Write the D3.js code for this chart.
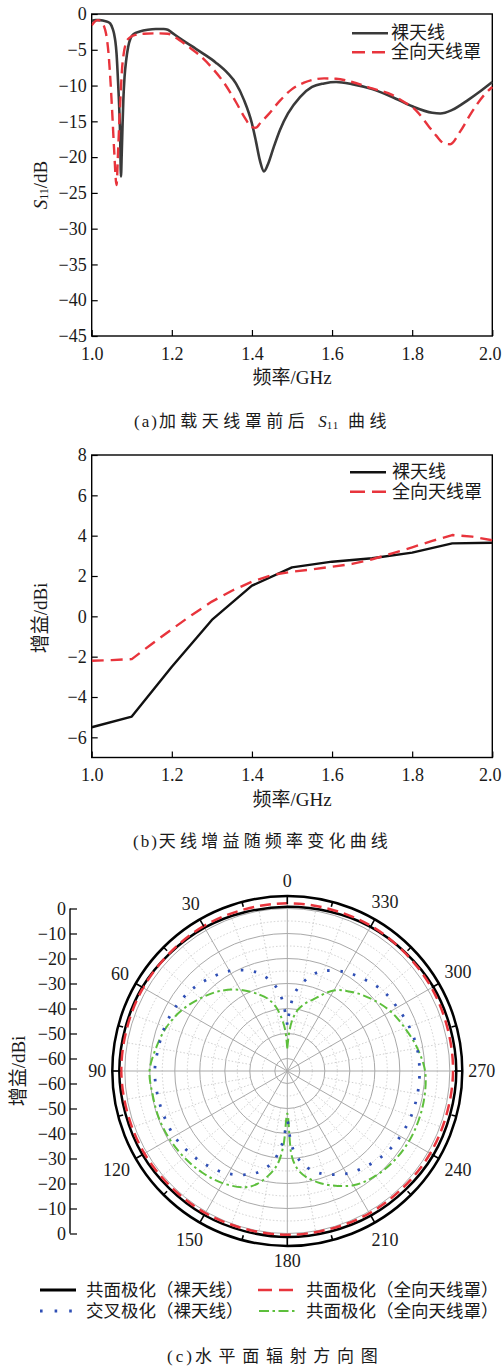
<!DOCTYPE html>
<html><head><meta charset="utf-8">
<script src="https://cdn.jsdelivr.net/npm/d3@7"></script>
<style>
html,body{margin:0;padding:0;background:#fff;}
svg{display:block;}
</style></head><body>
<svg id="c" width="502" height="1366"></svg>
<script>
// ---------- DATA ----------
// (a) S11 curves
const freqBare = [1.000,1.010,1.020,1.030,1.040,1.046,1.052,1.056,1.059,1.062,1.066,1.069,1.071,1.073,1.075,1.077,1.079,1.082,1.086,1.091,1.097,1.105,1.12,1.14,1.16,1.18,1.19,1.20,1.22,1.25,1.28,1.31,1.34,1.36,1.38,1.40,1.41,1.42,1.43,1.44,1.455,1.47,1.49,1.52,1.55,1.58,1.61,1.65,1.70,1.75,1.80,1.85,1.87,1.90,1.94,1.97,2.00];
const s11Bare  = [-0.95,-0.85,-0.85,-0.95,-1.1,-1.3,-2.0,-2.8,-3.8,-5.5,-9.7,-13.5,-17,-22.7,-19.5,-15.5,-12,-8.8,-6.5,-4.6,-3.4,-2.8,-2.45,-2.2,-2.1,-2.1,-2.2,-2.6,-3.4,-4.5,-5.6,-6.8,-8.3,-9.7,-12.0,-15.3,-17.8,-20.5,-22.0,-21.0,-18.5,-16.2,-13.9,-11.6,-10.2,-9.7,-9.5,-9.8,-10.5,-11.6,-12.9,-13.8,-13.9,-13.4,-12.0,-10.8,-9.5];
const freqRadome = [1.000,1.007,1.015,1.022,1.030,1.036,1.042,1.047,1.051,1.056,1.062,1.066,1.069,1.072,1.076,1.080,1.086,1.095,1.11,1.13,1.16,1.19,1.21,1.24,1.27,1.30,1.33,1.36,1.38,1.40,1.41,1.42,1.44,1.47,1.50,1.53,1.56,1.58,1.61,1.65,1.70,1.75,1.78,1.81,1.84,1.86,1.88,1.895,1.92,1.95,1.98,2.00];
const s11Radome  = [-1.6,-1.1,-0.85,-0.95,-1.6,-2.8,-5.5,-9.5,-13.5,-19,-23.9,-19,-15,-11.5,-7.5,-5.5,-4.0,-3.3,-2.9,-2.75,-2.7,-2.75,-3.3,-4.5,-5.8,-7.5,-9.6,-12.3,-14.3,-15.8,-15.9,-15.3,-14.1,-12.1,-10.5,-9.6,-9.1,-9.0,-9.05,-9.5,-10.4,-11.3,-12.3,-13.5,-15.6,-17.0,-18.1,-18.2,-16.4,-13.6,-11.3,-10.2];
// (b) gain curves
const freqGain = [1.0,1.1,1.2,1.3,1.4,1.5,1.6,1.7,1.8,1.9,2.0];
const gainBare = [-5.5,-4.97,-2.5,-0.18,1.52,2.43,2.71,2.88,3.16,3.62,3.65];
const freqGainRadome = [1.0,1.05,1.1,1.15,1.2,1.25,1.3,1.35,1.4,1.45,1.5,1.55,1.6,1.65,1.7,1.75,1.8,1.85,1.9,1.95,2.0];
const gainRadome = [-2.2,-2.17,-2.12,-1.37,-0.64,0.07,0.73,1.27,1.72,2.05,2.21,2.33,2.46,2.6,2.83,3.12,3.42,3.74,4.03,3.95,3.77];
// tick labels
const freqTicks = [1.0,1.2,1.4,1.6,1.8,2.0];
const s11Ticks = [0,-5,-10,-15,-20,-25,-30,-35,-40,-45];
const gainTicks = [-6,-4,-2,0,2,4,6,8];
// (c) polar pattern
const coAngles = [0,30,60,90,120,150,180,210,240,270,300,330];
const coBare   = [0.7,1.2,2.0,2.2,1.9,1.5,1.4,1.8,2.4,2.6,2.4,1.6];
const coRadome = [2.1,1.9,1.6,1.4,1.0,0.6,0.5,0.7,1.0,1.3,1.6,2.0];
const fineAngles = [0,3,6,10,15,20,30,40,50,60,70,80,90,100,110,120,130,140,150,160,165,170,174,177,180,183,186,190,195,200,210,220,230,240,250,260,270,280,290,300,310,320,330,340,345,350,354,357,360];
const crossBare = [-46.5,-39,-33,-28.7,-25,-22.4,-18.8,-16.6,-14.7,-13.5,-12.9,-12.6,-12.0,-12.2,-12.5,-12.8,-14.0,-15.5,-17.6,-21.0,-23.5,-27.3,-32.3,-38,-45,-36,-31,-26.8,-23.5,-21.1,-17.6,-15.4,-13.7,-12.8,-12.3,-12.1,-12.1,-12.3,-13.1,-14.2,-15.1,-17.1,-19.2,-22.4,-25,-29,-33,-38.5,-46.5];
const coRadome2 = [-56,-48.5,-44,-39,-35.1,-32.5,-27.5,-23.2,-19.7,-16.3,-13.6,-11.7,-9.9,-10.3,-10.3,-10.6,-11.2,-12.0,-13.2,-15.5,-18.2,-22.7,-27.5,-35,-48,-31,-25.5,-22,-19,-16.5,-12.2,-10.2,-9.2,-8.8,-8.9,-9.2,-9.9,-12.2,-14.9,-17.3,-20.5,-23.9,-27.8,-34.5,-37,-40,-44,-49,-56];
const polarTicks = [0,-10,-20,-30,-40,-50,-60];
const polarAngleLabels = [0,30,60,90,120,150,180,210,240,270,300,330];
const legendAB = ["裸天线","全向天线罩"];
const legendC = ["共面极化（裸天线）","共面极化（全向天线罩）","交叉极化（裸天线）","共面极化（全向天线罩）"];

// ---------- DRAW ----------
const SERIF = "'Liberation Serif','Noto Sans CJK SC',serif";
const TXT = "#1a1a1a";
const RED = "#e8343c";
const svg = d3.select('#c');
svg.append('rect').attr('width',502).attr('height',1366).attr('fill','#fff');

function styleAxis(sel){
  sel.select('.domain').remove();
  sel.selectAll('.tick line').attr('stroke','#000').attr('stroke-width',1.2);
  sel.selectAll('.tick text').attr('font-family',SERIF).attr('font-size',18).attr('fill',TXT);
}

function panel(cfg){
  const g = svg.append('g');
  const x = d3.scaleLinear().domain([1,2]).range([cfg.left,cfg.right]);
  const y = d3.scaleLinear().domain(cfg.yDomain).range([cfg.bottom,cfg.top]);
  const xa = g.append('g').attr('transform',`translate(0,${cfg.bottom})`)
    .call(d3.axisBottom(x).tickValues(freqTicks).tickFormat(d3.format('.1f')).tickSizeInner(-6).tickSizeOuter(0).tickPadding(11));
  styleAxis(xa);
  // keep the last label inside the page edge, as in the reference
  xa.selectAll('.tick text').filter(d=>d===2.0).attr('text-anchor','end').attr('x',501-cfg.right);
  const ya = g.append('g').attr('transform',`translate(${cfg.left},0)`)
    .call(d3.axisLeft(y).tickValues(cfg.yTicks).tickFormat(d3.format('d')).tickSizeInner(-6).tickSizeOuter(0).tickPadding(5));
  styleAxis(ya);
  g.append('rect').attr('x',cfg.left).attr('y',cfg.top).attr('width',cfg.right-cfg.left).attr('height',cfg.bottom-cfg.top)
    .attr('fill','none').attr('stroke','#000').attr('stroke-width',1.4);
  const clipId = 'clip'+cfg.id;
  svg.append('clipPath').attr('id',clipId).append('rect')
    .attr('x',cfg.left).attr('y',cfg.top-2).attr('width',cfg.right-cfg.left+2).attr('height',cfg.bottom-cfg.top+4);
  const line = d3.line().x(d=>x(d[0])).y(d=>y(d[1])).curve(cfg.curve);
  cfg.series.forEach(s=>{
    g.append('path').datum(s.fx.map((f,i)=>[f,s.vals[i]]))
      .attr('clip-path',`url(#${clipId})`)
      .attr('d',line).attr('fill','none').attr('stroke',s.color).attr('stroke-width',s.width)
      .attr('stroke-dasharray',s.dash||null).attr('stroke-linejoin','round');
  });
  // legend
  cfg.series.forEach((s,i)=>{
    const ly = cfg.legY[i];
    g.append('line').attr('x1',cfg.legX).attr('x2',cfg.legX+36).attr('y1',ly).attr('y2',ly)
      .attr('stroke',s.color).attr('stroke-width',s.width).attr('stroke-dasharray',s.legDash||null);
    g.append('text').attr('x',cfg.legX+cfg.legGap).attr('y',ly).attr('dominant-baseline','central')
      .attr('font-family',SERIF).attr('font-size',18).attr('fill',TXT).text(legendAB[i]);
  });
  // x title
  g.append('text').attr('x',(cfg.left+cfg.right)/2).attr('y',cfg.xTitleY).attr('text-anchor','middle')
    .attr('dominant-baseline','central').attr('font-family',SERIF).attr('font-size',19).attr('fill',TXT).text('频率/GHz');
  return {g,x,y};
}

// (a)
const A = panel({id:'a',left:91.7,right:492.3,top:14,bottom:336,yDomain:[-45,0],yTicks:s11Ticks,
  curve:d3.curveMonotoneX,
  series:[{fx:freqBare,vals:s11Bare,color:'#3a3a3a',width:2.6},
          {fx:freqRadome,vals:s11Radome,color:RED,width:2.4,dash:'11,6',legDash:'13,7'}],
  legX:352,legGap:39,legY:[33.3,52.3],xTitleY:377.5});
// y title a
const ta = A.g.append('text').attr('transform','translate(40,185) rotate(-90)').attr('text-anchor','middle')
  .attr('dominant-baseline','central').attr('font-family',SERIF).attr('font-size',19).attr('fill',TXT);
ta.append('tspan').attr('font-style','italic').text('S');
ta.append('tspan').attr('font-size',12).attr('dy',4).text('11');
ta.append('tspan').attr('dy',-4).text('/dB');
// caption a
const ca = svg.append('text').attr('x',134).attr('y',421).attr('dominant-baseline','central')
  .attr('font-family',SERIF).attr('font-size',17).attr('fill',TXT);
ca.append('tspan').attr('letter-spacing',2).text('(a)');
ca.append('tspan').attr('letter-spacing',4.5).text('加载天线罩前后 ');
ca.append('tspan').attr('font-style','italic').text('S');
ca.append('tspan').attr('font-size',11).attr('dy',4).attr('letter-spacing',1).text('11');
ca.append('tspan').attr('dy',-4).attr('letter-spacing',4.5).text(' 曲线');

// (b)
const B = panel({id:'b',left:91.7,right:492.3,top:455,bottom:757.5,yDomain:[-7,8],yTicks:gainTicks,
  curve:d3.curveLinear,
  series:[{fx:freqGain,vals:gainBare,color:'#111',width:2.4},
          {fx:freqGainRadome,vals:gainRadome,color:RED,width:2.4,dash:'12,7',legDash:'15,7'}],
  legX:350,legGap:42,legY:[472.3,491.7],xTitleY:799});
B.g.append('text').attr('transform','translate(40,618) rotate(-90)').attr('text-anchor','middle')
  .attr('dominant-baseline','central').attr('font-family',SERIF).attr('font-size',19).attr('fill',TXT).text('增益/dBi');
const cb = svg.append('text').attr('x',133).attr('y',840.5).attr('dominant-baseline','central')
  .attr('font-family',SERIF).attr('font-size',17).attr('fill',TXT);
cb.append('tspan').attr('letter-spacing',2).text('(b)');
cb.append('tspan').attr('letter-spacing',4.2).text('天线增益随频率变化曲线');

// (c) polar
const cx=287.3, cy=1071, R=175;
const r = d3.scaleLinear().domain([-65,5]).range([0,R]);
const pg = svg.append('g').attr('transform',`translate(${cx},${cy})`);
const rad = a=>a*Math.PI/180;
const px = (a,rr)=>-rr*Math.sin(rad(a)), py=(a,rr)=>-rr*Math.cos(rad(a));
// grid circles
pg.selectAll('circle.minor').data([-55,-45,-35,-25,-15,-5]).enter().append('circle')
  .attr('r',d=>r(d)).attr('fill','none').attr('stroke','#c4c4c4').attr('stroke-width',0.8).attr('stroke-dasharray','1.5,2');
pg.selectAll('circle.major').data(polarTicks).enter().append('circle')
  .attr('r',d=>r(d)).attr('fill','none').attr('stroke','#a9a9a9').attr('stroke-width',1);
// radial lines
d3.range(0,360,10).forEach(a=>{
  if(a%30===0){
    pg.append('line').attr('x1',0).attr('y1',0).attr('x2',px(a,R)).attr('y2',py(a,R))
      .attr('stroke','#a9a9a9').attr('stroke-width',1);
  } else {
    pg.append('line').attr('x1',px(a,r(-50))).attr('y1',py(a,r(-50))).attr('x2',px(a,r(0))).attr('y2',py(a,r(0)))
      .attr('stroke','#c4c4c4').attr('stroke-width',0.8).attr('stroke-dasharray','1.5,2');
  }
});
// data
const radialOpen = d3.lineRadial().angle(d=>-rad(d[0])).radius(d=>r(d[1])).curve(d3.curveCatmullRom.alpha(0.5));
const radialClosed = d3.lineRadial().angle(d=>-rad(d[0])).radius(d=>r(d[1])).curve(d3.curveCatmullRomClosed.alpha(0.5));
const GREEN='#5dbf3c', BLUE='#2f4fb5';
pg.append('path').datum(fineAngles.map((a,i)=>[a,coRadome2[i]])).attr('d',radialOpen)
  .attr('fill','none').attr('stroke',GREEN).attr('stroke-width',2).attr('stroke-dasharray','9,3.5,2.5,3.5');
pg.append('path').datum(fineAngles.map((a,i)=>[a,crossBare[i]])).attr('d',radialOpen)
  .attr('fill','none').attr('stroke',BLUE).attr('stroke-width',2.8).attr('stroke-dasharray','2.5,10.5');
pg.append('path').datum(coAngles.map((a,i)=>[a,coBare[i]])).attr('d',radialClosed)
  .attr('fill','none').attr('stroke','#000').attr('stroke-width',2.5);
pg.append('path').datum(coAngles.map((a,i)=>[a,coRadome[i]])).attr('d',radialClosed)
  .attr('fill','none').attr('stroke',RED).attr('stroke-width',2.5).attr('stroke-dasharray','11,6');
// outer ring + ticks
pg.append('circle').attr('r',R).attr('fill','none').attr('stroke','#000').attr('stroke-width',2.5);
d3.range(0,360,15).forEach(a=>{
  const len = a%30===0?8:5;
  pg.append('line').attr('x1',px(a,R)).attr('y1',py(a,R)).attr('x2',px(a,R-len)).attr('y2',py(a,R-len))
    .attr('stroke','#000').attr('stroke-width',1.6);
});
// angle labels
polarAngleLabels.forEach(a=>{
  const w = String(a).length*9;
  const rr = 181 + Math.abs(Math.sin(rad(a)))*w/2 + Math.abs(Math.cos(rad(a)))*9;
  pg.append('text').attr('x',px(a,rr)).attr('y',py(a,rr)).attr('text-anchor','middle').attr('dominant-baseline','central')
    .attr('font-family',SERIF).attr('font-size',18).attr('fill',TXT).text(a);
});
// left radial axis
const yTop = d3.scaleLinear().domain([-65,5]).range([cy,cy-R]);
const yBot = d3.scaleLinear().domain([-65,5]).range([cy,cy+R]);
[yTop,yBot].forEach(sc=>{
  const ax = svg.append('g').attr('transform','translate(70,0)')
    .call(d3.axisLeft(sc).tickValues(polarTicks).tickFormat(d3.format('d')).tickSizeInner(-7).tickSizeOuter(0).tickPadding(4));
  styleAxis(ax);
});
svg.append('line').attr('x1',70).attr('x2',70).attr('y1',yTop(0)).attr('y2',yBot(0)).attr('stroke','#000').attr('stroke-width',1.4);
svg.append('text').attr('transform',`translate(18,${cy}) rotate(-90)`).attr('text-anchor','middle')
  .attr('dominant-baseline','central').attr('font-family',SERIF).attr('font-size',19).attr('fill',TXT).text('增益/dBi');
// legend c
const legC = [
  {x:40,x2:76,y:1290,tx:86,color:'#000',w:3,dash:null},
  {x:258,x2:293,y:1290,tx:306,color:RED,w:2.6,dash:'14,7'},
  {x:40,x2:72,y:1311,tx:86,color:BLUE,w:3,dash:'2.6,12'},
  {x:259,x2:295,y:1311,tx:306,color:GREEN,w:2,dash:'10,3.5,2.5,3.5'}
];
legC.forEach((l,i)=>{
  svg.append('line').attr('x1',l.x).attr('x2',l.x2).attr('y1',l.y).attr('y2',l.y)
    .attr('stroke',l.color).attr('stroke-width',l.w).attr('stroke-dasharray',l.dash);
  svg.append('text').attr('x',l.tx).attr('y',l.y).attr('dominant-baseline','central')
    .attr('font-family',SERIF).attr('font-size',17.5).attr('fill',TXT).text(legendC[i]);
});
const cc = svg.append('text').attr('x',167).attr('y',1355.5).attr('dominant-baseline','central')
  .attr('font-family',SERIF).attr('font-size',17).attr('fill',TXT);
cc.append('tspan').attr('letter-spacing',3).text('(c)');
cc.append('tspan').attr('letter-spacing',6.7).text('水平面辐射方向图');
</script>
</body></html>
